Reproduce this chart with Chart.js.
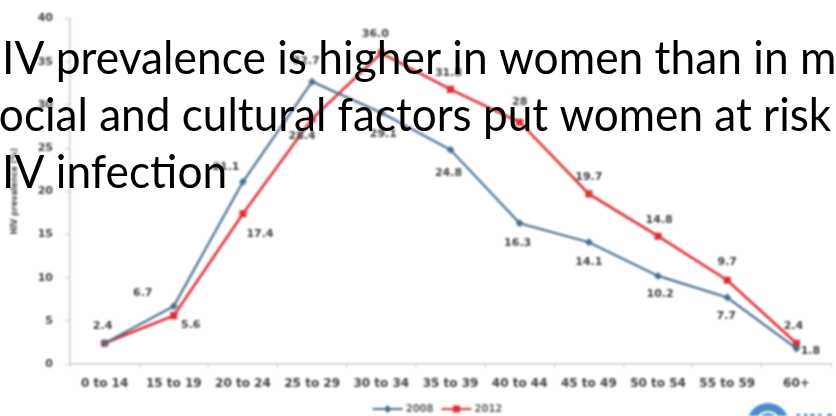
<!DOCTYPE html>
<html>
<head>
<meta charset="utf-8">
<script src="https://cdn.jsdelivr.net/npm/chart.js@4.4.1/dist/chart.umd.min.js"></script>
<style>
  html, body { margin: 0; padding: 0; background: #ffffff; }
  #wrap { position: relative; width: 836px; height: 416px; overflow: hidden; background: #fff; }
  #chart { position: absolute; left: 0; top: 0; filter: blur(0.8px); }
  #caption { position: absolute; left: 0; top: 0; pointer-events: none; }
</style>
</head>
<body>
<div id="wrap">
  <canvas id="chart" width="836" height="416"></canvas>
  <canvas id="caption" width="836" height="416"></canvas>
</div>
<script>
// Age groups on the x axis
const ageGroups = ['0 to 14', '15 to 19', '20 to 24', '25 to 29', '30 to 34', '35 to 39',
                   '40 to 44', '45 to 49', '50 to 54', '55 to 59', '60+'];

// HIV prevalence (%) by age group, as published
const prevalence2008 = ['2.4', '6.7', '21.1', '32.7', '29.1', '24.8', '16.3', '14.1', '10.2', '7.7', '1.8'];
const prevalence2012 = ['2.4', '5.6', '17.4', '28.4', '36.0', '31.8', '28', '19.7', '14.8', '9.7', '2.4'];

// Y axis range and step
const yMin = 0;
const yMax = 40;
const yStep = 5;

const seriesNames = ['2008', '2012'];
const yAxisTitle = 'HIV prevalence (%)';

// Slide caption lines
const captionLines = [
  'HIV prevalence is higher in women than in men',
  'Social and cultural factors put women at risk of',
  'HIV infection'
];

// Value label offsets (px from the point), one per point
const labelShift2008 = [[-2, -17], [-31, -13], [-17, -15], [-6, -20], [2, 21], [-2, 23],
                        [-2, 20], [0, 20], [2, 18], [-1, 19], [14, 3]];
const labelShift2012 = [null, [17, 9], [17, 20], [-10, 17], [-6, -19], [-2, -16],
                        [0, -20], [0, -17], [1, -16], [0, -18], [-3, -17]];

const blue = '#4a6d8c';
const red = '#dc2f36';
const grey = '#404040';

// Point value labels
const valueLabels = {
  id: 'valueLabels',
  afterDatasetsDraw(chart) {
    const ctx = chart.ctx;
    const raws = [prevalence2008, prevalence2012];
    const shifts = [labelShift2008, labelShift2012];
    ctx.save();
    ctx.font = 'bold 11px "DejaVu Sans"';
    ctx.fillStyle = grey;
    ctx.textAlign = 'center';
    ctx.textBaseline = 'middle';
    chart.data.datasets.forEach((ds, di) => {
      const meta = chart.getDatasetMeta(di);
      meta.data.forEach((pt, i) => {
        const s = shifts[di][i];
        if (!s) return;
        ctx.fillText(raws[di][i], pt.x + s[0], pt.y + s[1]);
      });
    });
    ctx.restore();
  }
};

// Legend drawn as line + marker + name, below the category labels
const lineLegend = {
  id: 'lineLegend',
  afterDraw(chart) {
    const ctx = chart.ctx;
    const area = chart.chartArea;
    const y = 409;
    ctx.save();
    ctx.font = 'bold 10px "DejaVu Sans"';
    ctx.textBaseline = 'middle';
    const seg = 30, gapText = 3, gapItem = 8;
    const widths = chart.data.datasets.map(ds => seg + gapText + ctx.measureText(ds.label).width);
    const total = widths.reduce((a, b) => a + b, 0) + gapItem;
    let x = (area.left + area.right) / 2 - 13 - total / 2;
    chart.data.datasets.forEach((ds, i) => {
      ctx.strokeStyle = ds.borderColor;
      ctx.lineWidth = 2;
      ctx.beginPath();
      ctx.moveTo(x, y);
      ctx.lineTo(x + seg, y);
      ctx.stroke();
      ctx.fillStyle = ds.borderColor;
      const cx = x + seg / 2;
      ctx.beginPath();
      if (ds.pointStyle === 'rectRot') {
        ctx.moveTo(cx, y - 4); ctx.lineTo(cx + 4, y); ctx.lineTo(cx, y + 4); ctx.lineTo(cx - 4, y);
      } else {
        ctx.rect(cx - 3.5, y - 3.5, 7, 7);
      }
      ctx.closePath();
      ctx.fill();
      ctx.fillStyle = '#666666';
      ctx.textAlign = 'left';
      ctx.fillText(ds.label, x + seg + gapText, y);
      x += widths[i] + gapItem;
    });
    // organisation badge in the corner
    ctx.fillStyle = '#4a8ccc';
    ctx.beginPath();
    ctx.arc(768, 424, 21, 0, Math.PI * 2);
    ctx.fill();
    ctx.strokeStyle = '#ffffff';
    ctx.lineWidth = 2;
    ctx.beginPath();
    ctx.arc(768, 424, 12, Math.PI, Math.PI * 2);
    ctx.stroke();
    ctx.fillStyle = '#2c5d9c';
    ctx.font = 'bold 17px "DejaVu Sans"';
    ctx.textBaseline = 'alphabetic';
    ctx.fillText('UNAIDS', 795, 427);
    ctx.restore();
  }
};

const chart = new Chart(document.getElementById('chart'), {
  type: 'line',
  data: {
    labels: ageGroups,
    datasets: [
      {
        label: seriesNames[0],
        data: prevalence2008.map(Number),
        borderColor: blue,
        backgroundColor: blue,
        borderWidth: 2.2,
        pointStyle: 'rectRot',
        pointRadius: 4,
        pointBorderWidth: 0,
        tension: 0
      },
      {
        label: seriesNames[1],
        data: prevalence2012.map(Number),
        borderColor: red,
        backgroundColor: red,
        borderWidth: 2.6,
        pointStyle: 'rect',
        pointRadius: 5,
        pointBorderWidth: 0,
        tension: 0
      }
    ]
  },
  options: {
    responsive: false,
    animation: false,
    layout: { padding: { left: 0, right: 3, top: 17, bottom: 0 } },
    plugins: {
      legend: { display: false },
      tooltip: { enabled: false }
    },
    scales: {
      x: {
        type: 'category',
        offset: true,
        afterFit(scale) { scale.height = 52; },
        border: { display: true, color: '#c8c8c8', width: 1.5 },
        grid: { display: true, drawOnChartArea: false, drawTicks: true, tickLength: 4, color: '#c8c8c8', offset: true },
        ticks: {
          color: grey,
          font: { family: 'DejaVu Sans', size: 12, weight: 'bold' },
          padding: 9,
          maxRotation: 0,
          autoSkip: false
        }
      },
      y: {
        min: yMin,
        max: yMax,
        afterFit(scale) { scale.width = 70; },
        border: { display: true, color: '#c8c8c8', width: 1.5 },
        grid: { display: true, drawOnChartArea: false, drawTicks: true, tickLength: 5, color: '#c8c8c8' },
        ticks: {
          stepSize: yStep,
          color: grey,
          font: { family: 'DejaVu Sans', size: 11, weight: 'bold' },
          padding: 12
        },
        title: {
          display: true,
          text: yAxisTitle,
          color: grey,
          font: { family: 'DejaVu Sans', size: 8, weight: 'bold' },
          padding: { top: 10, bottom: 4 }
        }
      }
    }
  },
  plugins: [valueLabels, lineLegend]
});

// Caption text over the chart
function drawCaption() {
  const c = document.getElementById('caption');
  const ctx = c.getContext('2d');
  ctx.clearRect(0, 0, c.width, c.height);
  ctx.fillStyle = '#000000';
  ctx.textBaseline = 'alphabetic';
  ctx.font = '46px Lato';
  // horizontal fit: line 1 from "I" at x=2 to "m" of "men" at x=800
  const hW = ctx.measureText('H').width;
  const fitW = ctx.measureText('HIV prevalence is higher in women than in ').width - hW;
  const sx = 798 / fitW;
  const sW = ctx.measureText('S').width;
  const fitW2 = ctx.measureText('Social and cultural factors ').width - sW;
  const sx2 = 484 / fitW2;
  const rows = [
    { text: captionLines[0], x: 2 - hW * sx, y: 74, s: sx },
    { text: captionLines[1], x: -1 - sW * sx2, y: 131, s: sx2 },
    { text: captionLines[2], x: 2 - hW * sx, y: 188, s: sx }
  ];
  rows.forEach(r => {
    ctx.save();
    ctx.translate(r.x, r.y);
    ctx.scale(r.s, 1);
    ctx.fillText(r.text, 0, 0);
    ctx.restore();
  });
}
if (document.fonts && document.fonts.load) {
  document.fonts.load('46px Lato').then(drawCaption, drawCaption);
} else {
  drawCaption();
}
</script>
</body>
</html>
